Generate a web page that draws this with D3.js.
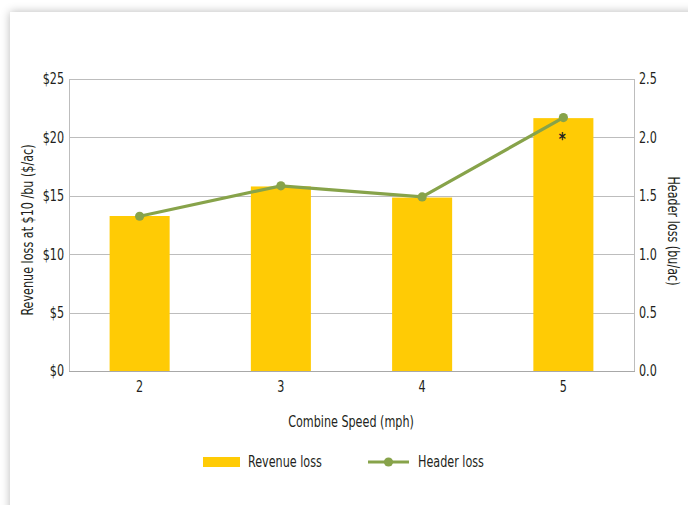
<!DOCTYPE html>
<html><head><meta charset="utf-8">
<script src="https://cdn.jsdelivr.net/npm/d3@7"></script>
<style>
html,body{margin:0;padding:0;background:#fff;overflow:hidden;width:688px;height:505px;}
#card{position:absolute;left:10px;top:12px;width:740px;height:560px;background:#fff;box-shadow:0 0 9px rgba(0,0,0,0.28);}
svg{position:absolute;left:0;top:0;}
text{font-family:"Liberation Sans Narrow","DejaVu Sans Condensed","Roboto",sans-serif;fill:#231f20;}
</style></head>
<body>
<div id="card"></div>
<svg id="chart" width="688" height="505"></svg>
<script>
const categories = ["2","3","4","5"];
const revenueLoss = [13.27, 15.8, 14.85, 21.65];
const headerLoss = [1.325, 1.585, 1.49, 2.17];
const leftTicks = [0,5,10,15,20,25];
const rightTicks = [0,0.5,1,1.5,2,2.5];
const seriesNames = ["Revenue loss","Header loss"];

const SX = 0.83; // horizontal condensing to mimic a condensed face
const svg = d3.select("#chart");
const m = {l:69, r:634, t:79, b:371};
const x = d3.scaleBand().domain(categories).range([m.l, m.r]).paddingInner(0.575).paddingOuter(0.2875);
const yL = d3.scaleLinear().domain([0,25]).range([m.b, m.t]);
const yR = d3.scaleLinear().domain([0,2.5]).range([m.b, m.t]);
const gridCol = "#bdbdbd";

function label(px, py, rot, txt, anchor, size){
  return svg.append("g").attr("transform",`translate(${px},${py}) rotate(${rot}) scale(${SX},1)`)
    .append("text").attr("text-anchor",anchor||"start").style("font-size",(size||15)+"px").text(txt);
}

// gridlines
svg.append("g").selectAll("line").data(leftTicks).join("line")
  .attr("x1", m.l).attr("x2", m.r)
  .attr("y1", d=>Math.round(yL(d))+0.5).attr("y2", d=>Math.round(yL(d))+0.5)
  .attr("stroke", gridCol).attr("stroke-width",1);
// frame sides
svg.append("line").attr("x1",m.l+0.5).attr("x2",m.l+0.5).attr("y1",m.t).attr("y2",m.b).attr("stroke",gridCol);
svg.append("line").attr("x1",m.r+0.5).attr("x2",m.r+0.5).attr("y1",m.t).attr("y2",m.b).attr("stroke",gridCol);

// bars
svg.append("g").selectAll("rect").data(revenueLoss).join("rect")
  .attr("x",(d,i)=>x(categories[i])).attr("width",x.bandwidth())
  .attr("y",d=>yL(d)).attr("height",d=>m.b-yL(d)).attr("fill","#ffcb05");

// bottom axis line
svg.append("line").attr("x1",m.l).attr("x2",m.r+1).attr("y1",m.b+0.5).attr("y2",m.b+0.5).attr("stroke","#a8a8a8");

// left axis
const axL = d3.axisLeft(yL).tickValues(leftTicks).tickSize(0).tickPadding(6).tickFormat(d=>"$"+d);
const gL = svg.append("g").attr("transform",`translate(${m.l},0)`).call(axL);
gL.select(".domain").remove();
gL.selectAll("text").style("font-size","15px").attr("fill","#231f20").attr("transform",`scale(${SX},1)`);
// right axis
const axR = d3.axisRight(yR).tickValues(rightTicks).tickSize(0).tickPadding(6).tickFormat(d3.format(".1f"));
const gR = svg.append("g").attr("transform",`translate(${m.r},0)`).call(axR);
gR.select(".domain").remove();
gR.selectAll("text").style("font-size","15px").attr("fill","#231f20").attr("transform",`scale(${SX},1)`);
// bottom axis
const axB = d3.axisBottom(x).tickSize(0).tickPadding(10);
const gB = svg.append("g").attr("transform",`translate(0,${m.b})`).call(axB);
gB.select(".domain").remove();
gB.selectAll("text").style("font-size","15px").attr("fill","#231f20").attr("transform",`scale(${SX},1)`);

// line
const green = "#87a34a";
const line = d3.line().x((d,i)=>x(categories[i])+x.bandwidth()/2).y(d=>yR(d));
svg.append("path").datum(headerLoss).attr("d",line).attr("fill","none").attr("stroke",green).attr("stroke-width",3.2);
svg.append("g").selectAll("circle").data(headerLoss).join("circle")
  .attr("cx",(d,i)=>x(categories[i])+x.bandwidth()/2).attr("cy",d=>yR(d)).attr("r",4.6).attr("fill",green);

// asterisk
label(x("5")+x.bandwidth()/2-1, yR(headerLoss[3])+27, 0, "*", "middle", 18).style("font-weight","bold");

// axis titles
label(33, 230, -90, "Revenue loss at $10 /bu ($/ac)", "middle");
label(668, 231, 90, "Header loss (bu/ac)", "middle");
label(351, 427, 0, "Combine Speed (mph)", "middle");

// legend
svg.append("rect").attr("x",203).attr("y",457).attr("width",37).attr("height",10).attr("fill","#ffcb05");
label(248, 467, 0, seriesNames[0]);
svg.append("line").attr("x1",368).attr("x2",409).attr("y1",462).attr("y2",462).attr("stroke",green).attr("stroke-width",3.2);
svg.append("circle").attr("cx",388.5).attr("cy",462).attr("r",4.6).attr("fill",green);
label(418, 467, 0, seriesNames[1]);
</script>
</body></html>
